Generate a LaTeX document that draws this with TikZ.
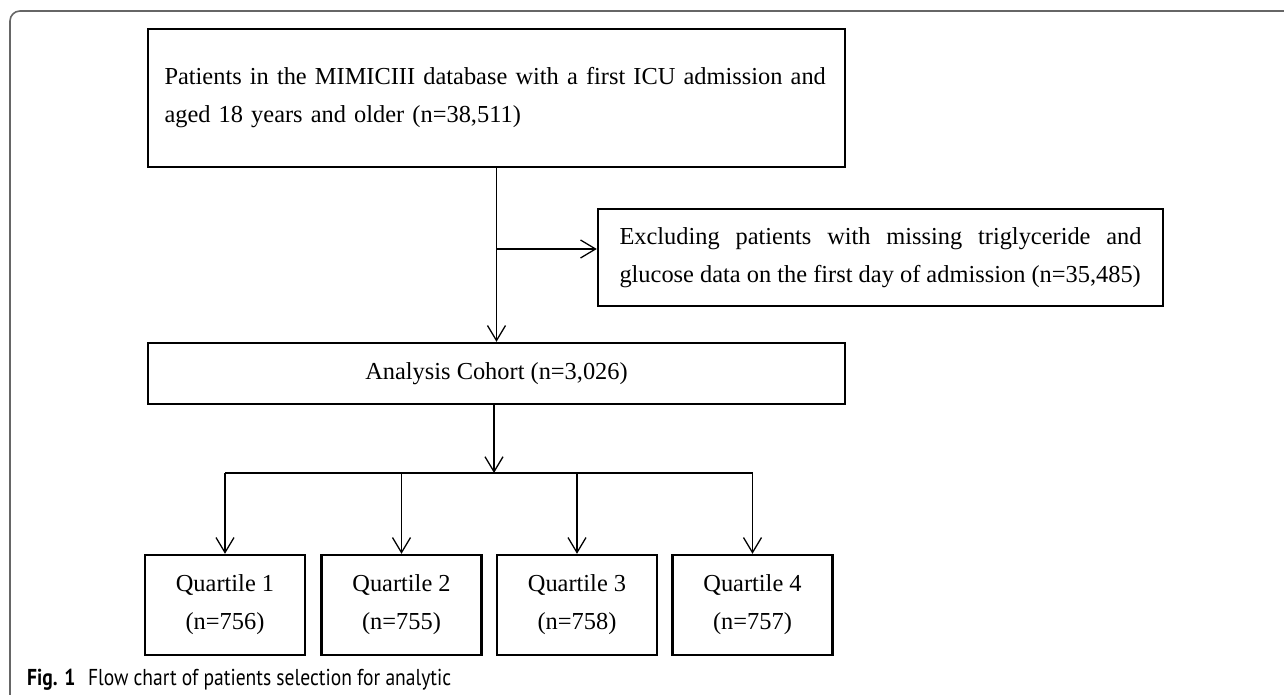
\documentclass[tikz,border=0pt]{standalone}
\usepackage{fontspec}
\setmainfont{Liberation Serif}
\newfontfamily\capfont[FakeStretch=0.85]{PT Sans}
\usepackage{tikz}
\usetikzlibrary{arrows.meta}

\begin{document}
\begin{tikzpicture}[x=1pt, y=-1pt,
        box/.style={draw, line width=2.4pt, inner sep=0pt, font=\fontsize{24.4pt}{38pt}\selectfont},
        arr/.style={line width=1.3pt, -{Straight Barb[length=15pt, width=18pt, line width=1.3pt]}}]
            \useasboundingbox (0, 0) rectangle (1284, 695);
            \draw [line width=1.6pt, black!60, rounded corners=10pt] (1290, 11) -- (10, 11) -- (10, 700);
            \node (top) at (496.5, 98) [box, minimum width=697pt, minimum height=138pt, text width=664pt, align=left] {Patients in the MIMICIII database with a first ICU admission and\\aged 18 years and older (n=38,511)};
            \node (excl) at (880.5, 257.5) [box, minimum width=565pt, minimum height=97pt, text width=522pt, align=justify] {Excluding patients with missing triglyceride and\linebreak glucose data on the first day of admission (n=35,485)};
            \node (cohort) at (496.5, 373.5) [box, minimum width=697pt, minimum height=61pt] {Analysis Cohort (n=3,026)};
            \node (q1) at (225, 605) [box, minimum width=160pt, minimum height=100pt, align=center] {Quartile 1\\(n=756)};
            \node (q2) at (401.5, 605) [box, minimum width=160pt, minimum height=100pt, align=center] {Quartile 2\\(n=755)};
            \node (q3) at (577, 605) [box, minimum width=160pt, minimum height=100pt, align=center] {Quartile 3\\(n=758)};
            \node (q4) at (752.5, 605) [box, minimum width=160pt, minimum height=100pt, align=center] {Quartile 4\\(n=757)};
            \node (cap) at (27, 680) [anchor=west, inner sep=0pt, font=\capfont\fontsize{23pt}{27pt}\selectfont] {\textbf{Fig. 1}\hspace{0.55em}Flow chart of patients selection for analytic};
            \coordinate (split) at (496.5, 249);
            \coordinate (hub) at (494, 473);
            \draw [arr] (top.south) -- (cohort.north);
            \draw [arr] (split) -- (split -| excl.west);
            \draw [arr] (cohort.south -| hub) -- (hub);
            \draw [line width=1.3pt] (q1.north |- hub) -- (q4.north |- hub);
            \draw [arr] (q1.north |- hub) -- (q1.north);
            \draw [arr] (q2.north |- hub) -- (q2.north);
            \draw [arr] (q3.north |- hub) -- (q3.north);
            \draw [arr] (q4.north |- hub) -- (q4.north);
        \end{tikzpicture}
\end{document}
